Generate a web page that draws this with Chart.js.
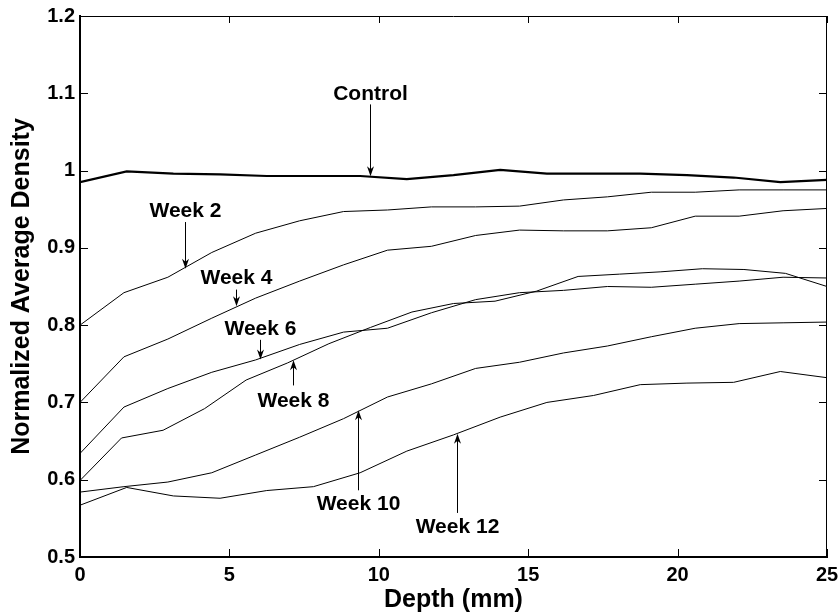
<!DOCTYPE html>
<html>
<head>
<meta charset="utf-8">
<script src="https://cdn.jsdelivr.net/npm/chart.js@4/dist/chart.umd.min.js"></script>
<style>
	html, body { margin: 0; padding: 0; background: #fff; }
	#wrap { width: 839px; height: 615px; }
</style>
</head>
<body>
<div id="wrap"><canvas id="density" width="839" height="615"></canvas></div>
<script>
// depth samples (mm); the series were not all measured on the same grid
const depthCtrl = [0, 1.5625, 3.125, 4.6875, 6.25, 7.8125, 9.375, 10.9375, 12.5, 14.0625, 15.625, 17.1875, 18.75, 20.3125, 21.875, 23.4375, 25];
const depthA = [0, 1.47, 2.94, 4.41, 5.88, 7.35, 8.82, 10.29, 11.76, 13.24, 14.71, 16.18, 17.65, 19.12, 20.59, 22.06, 23.53, 25];
const depthB = [0, 1.39, 2.78, 4.17, 5.56, 6.94, 8.33, 9.72, 11.11, 12.5, 13.89, 15.28, 16.67, 18.06, 19.44, 20.83, 22.22, 23.61, 25];

const control = [0.985, 0.999, 0.996, 0.995, 0.993, 0.993, 0.993, 0.989, 0.994, 1.001, 0.996, 0.996, 0.996, 0.994, 0.991, 0.985, 0.988];
const week2 = [0.800, 0.842, 0.862, 0.894, 0.919, 0.935, 0.947, 0.949, 0.953, 0.953, 0.954, 0.962, 0.966, 0.972, 0.972, 0.975, 0.975, 0.975];
const week4 = [0.700, 0.759, 0.782, 0.809, 0.835, 0.857, 0.878, 0.897, 0.902, 0.916, 0.923, 0.922, 0.922, 0.926, 0.941, 0.941, 0.948, 0.951];
const week6 = [0.634, 0.694, 0.718, 0.739, 0.755, 0.775, 0.791, 0.796, 0.816, 0.833, 0.842, 0.845, 0.850, 0.849, 0.853, 0.857, 0.862, 0.861];
const week8 = [0.599, 0.654, 0.664, 0.692, 0.729, 0.751, 0.776, 0.797, 0.817, 0.828, 0.831, 0.844, 0.863, 0.866, 0.869, 0.873, 0.872, 0.867, 0.850];
const week10 = [0.584, 0.591, 0.597, 0.609, 0.632, 0.655, 0.679, 0.707, 0.724, 0.744, 0.752, 0.764, 0.773, 0.785, 0.796, 0.802, 0.803, 0.804];
const week12 = [0.567, 0.590, 0.579, 0.576, 0.586, 0.591, 0.609, 0.637, 0.658, 0.681, 0.700, 0.709, 0.723, 0.725, 0.726, 0.740, 0.732];

const xTicks = [0, 5, 10, 15, 20, 25];
const yTicks = [0.5, 0.6, 0.7, 0.8, 0.9, 1.0, 1.1, 1.2];
const yTickLabels = ['0.5', '0.6', '0.7', '0.8', '0.9', '1', '1.1', '1.2'];

// callouts, in data units: label baseline, arrow base and arrow tip
const notes = [
	{ text: 'Control', x: 9.70, label: 1.0917, from: 1.0856, to: 0.9925 },
	{ text: 'Week 2', x: 3.51, label: 0.9398, from: 0.9334, to: 0.873 },
	{ text: 'Week 4', x: 5.22, label: 0.8537, from: 0.846, to: 0.8243 },
	{ text: 'Week 6', x: 6.02, label: 0.7877, from: 0.781, to: 0.7554 },
	{ text: 'Week 8', x: 7.14, label: 0.694, from: 0.722, to: 0.7545 },
	{ text: 'Week 10', x: 9.31, label: 0.5613, from: 0.5863, to: 0.6898 },
	{ text: 'Week 12', x: 12.63, label: 0.531, from: 0.557, to: 0.6596 }
];

const fontFamily = '"Liberation Sans", Arial, Helvetica, sans-serif';

function points(xs, ys) {
	return ys.map(function(v, i) {
		return { x: xs[i], y: v };
	});
}

function series(label, xs, ys, width) {
	return {
		label: label,
		data: points(xs, ys),
		borderColor: '#000',
		borderWidth: width,
		pointRadius: 0,
		tension: 0,
		fill: false
	};
}

let frame = {
	id: 'frame',
	afterDatasetsDraw: function(chart) {
		let ctx = chart.ctx,
			a = chart.chartArea,
			sx = chart.scales.x,
			sy = chart.scales.y;

		ctx.save();
		ctx.strokeStyle = '#000';
		ctx.lineWidth = 1;
		ctx.beginPath();
		ctx.moveTo(a.left, a.top + 0.5);
		ctx.lineTo(a.right, a.top + 0.5);
		ctx.moveTo(a.right - 0.5, a.top);
		ctx.lineTo(a.right - 0.5, a.bottom);

		xTicks.forEach(function(v) {
			let px = Math.round(sx.getPixelForValue(v)) + 0.5;
			ctx.moveTo(px, a.bottom);
			ctx.lineTo(px, a.bottom - 8);
			ctx.moveTo(px, a.top);
			ctx.lineTo(px, a.top + 7);
		});

		yTicks.forEach(function(v) {
			let py = Math.round(sy.getPixelForValue(v)) + 0.5;
			ctx.moveTo(a.left, py);
			ctx.lineTo(a.left + 8, py);
			ctx.moveTo(a.right, py);
			ctx.lineTo(a.right - 8, py);
		});
		ctx.stroke();

		ctx.fillStyle = '#000';
		ctx.font = 'bold 21px ' + fontFamily;
		ctx.textAlign = 'center';
		ctx.textBaseline = 'alphabetic';

		notes.forEach(function(n) {
			let px = Math.round(sx.getPixelForValue(n.x)) + 0.5,
				base = sy.getPixelForValue(n.from),
				tip = sy.getPixelForValue(n.to),
				dir = tip > base ? 1 : -1;

			ctx.fillText(n.text, px, sy.getPixelForValue(n.label));

			ctx.beginPath();
			ctx.moveTo(px, base);
			ctx.lineTo(px, tip - dir * 4);
			ctx.stroke();

			ctx.beginPath();
			ctx.moveTo(px, tip);
			ctx.lineTo(px - 3.5, tip - dir * 10);
			ctx.lineTo(px, tip - dir * 7);
			ctx.lineTo(px + 3.5, tip - dir * 10);
			ctx.closePath();
			ctx.fill();
		});
		ctx.restore();
	}
};

new Chart(document.getElementById('density'), {
	type: 'line',
	data: {
		datasets: [
			series('Control', depthCtrl, control, 2.2),
			series('Week 2', depthA, week2, 1),
			series('Week 4', depthA, week4, 1),
			series('Week 6', depthA, week6, 1),
			series('Week 8', depthB, week8, 1),
			series('Week 10', depthA, week10, 1),
			series('Week 12', depthCtrl, week12, 1)
		]
	},
	options: {
		responsive: false,
		animation: false,
		devicePixelRatio: 1,
		layout: { padding: { top: 16, right: 12, bottom: 0, left: 0 } },
		plugins: {
			legend: { display: false },
			tooltip: { enabled: false }
		},
		scales: {
			x: {
				type: 'linear',
				min: 0,
				max: 25,
				afterBuildTicks: function(s) {
					s.ticks = xTicks.map(function(v) { return { value: v }; });
				},
				afterFit: function(s) {
					s.height = 58;
					s.paddingLeft = 0;
					s.paddingRight = 0;
				},
				ticks: {
					color: '#000',
					padding: 6,
					maxRotation: 0,
					font: { family: fontFamily, size: 20, weight: 'bold' }
				},
				grid: { drawOnChartArea: false, drawTicks: false },
				border: { color: '#000', width: 2 },
				title: {
					display: true,
					text: 'Depth (mm)',
					color: '#000',
					padding: 0,
					font: { family: fontFamily, size: 25, weight: 'bold' }
				}
			},
			y: {
				type: 'linear',
				min: 0.5,
				max: 1.2,
				afterBuildTicks: function(s) {
					s.ticks = yTicks.map(function(v) { return { value: v }; });
				},
				afterFit: function(s) {
					s.width = 80;
					s.paddingTop = 0;
					s.paddingBottom = 0;
				},
				ticks: {
					color: '#000',
					padding: 5,
					font: { family: fontFamily, size: 20, weight: 'bold' },
					callback: function(v) {
						return yTickLabels[yTicks.findIndex(function(t) { return Math.abs(t - v) < 1e-6; })];
					}
				},
				grid: { drawOnChartArea: false, drawTicks: false },
				border: { color: '#000', width: 2 },
				title: {
					display: true,
					text: 'Normalized Average Density',
					color: '#000',
					padding: { top: 7, bottom: 0 },
					font: { family: fontFamily, size: 25, weight: 'bold' }
				}
			}
		}
	},
	plugins: [frame]
});
</script>
</body>
</html>
